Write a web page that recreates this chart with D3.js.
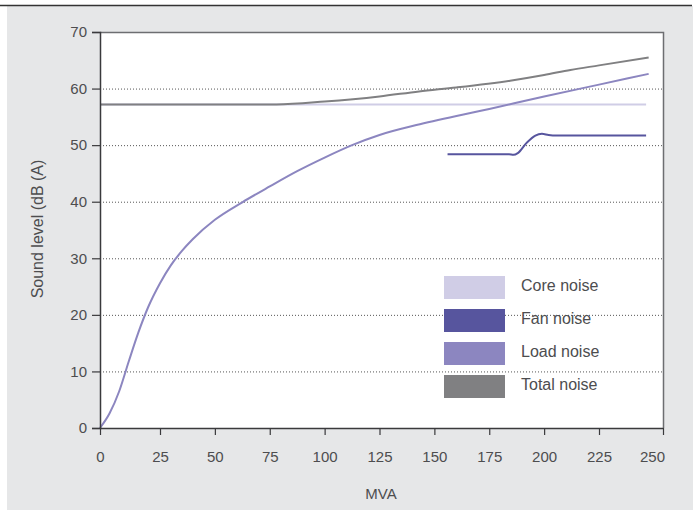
<!DOCTYPE html>
<html><head><meta charset="utf-8">
<script src="https://cdn.jsdelivr.net/npm/d3@7/dist/d3.min.js"></script>
<style>
html,body{margin:0;padding:0;background:#fff;}
svg text{font-family:"Liberation Sans",Arial,Helvetica,sans-serif;}
</style></head>
<body>
<script>
const xTicks = [0,25,50,75,100,125,150,175,200,225,250];
const yTicks = [0,10,20,30,40,50,60,70];
const seriesNames = ["Core noise","Fan noise","Load noise","Total noise"];
const seriesColors = ["#d0cde6","#57559e","#8c86c0","#808082"];

const coreNoise = [[0,57.2],[243.4,57.2]];
const fanNoise = [[156,48.4],[170,48.4],[184,48.4],[186,48.3],[188,48.6],[192,50.4],[196,51.7],[199,52.0],[202,51.8],[205.7,51.7],[243.4,51.7]];
const loadNoise = [[0,0],[4,2.6],[8,6.5],[12,11.8],[16,16.9],[20,21.3],[25,25.6],[30,28.8],[35,31.3],[40,33.4],[50,36.8],[62.5,39.9],[75,42.7],[87.5,45.4],[100,47.8],[112.5,50],[125,51.8],[143.4,53.7],[175,56.4],[200,58.6],[225,60.7],[244.4,62.6]];
const totalNoise = [[0,57.2],[78,57.2],[100,57.7],[125,58.6],[143,59.5],[160,60.2],[184.5,61.4],[200,62.4],[212,63.3],[225,64.1],[244.4,65.5]];
const seriesData = [coreNoise, fanNoise, loadNoise, totalNoise];

(function(){
const W = 698, H = 510;
const svg = d3.select("body").append("svg").attr("width",W).attr("height",H);

svg.append("rect").attr("x",7).attr("y",6).attr("width",686).attr("height",504).attr("fill","#e6e7e8");
svg.append("line").attr("x1",0).attr("x2",692).attr("y1",5.5).attr("y2",5.5).attr("stroke","#333").attr("stroke-width",1.5);

const pL=100, pR=663, pT=32, pB=428;
const x = d3.scaleLinear().domain([0,25,225,250]).range([100,160,599,663]);
const y = d3.scaleLinear().domain([0,70]).range([pB,pT]);

svg.append("rect").attr("x",pL).attr("y",pT).attr("width",pR-pL).attr("height",pB-pT).attr("fill","#fff");

const grid = svg.append("g").attr("transform",`translate(${pL},0)`)
  .call(d3.axisLeft(y).tickValues(yTicks.filter(v=>v>0&&v<70)).tickSize(-(pR-pL)).tickFormat(""));
grid.select(".domain").remove();
grid.selectAll("line").attr("stroke","#555").attr("stroke-width",1).attr("stroke-dasharray","1,2");

svg.append("path").attr("d",`M${pL},${pT+0.5}H${pR+0.5}V${pB}`).attr("fill","none").attr("stroke","#6d6e71").attr("stroke-width",1.5);

const line = d3.line().x(d=>x(d[0])).y(d=>y(d[1])).curve(d3.curveMonotoneX);
[0,2,1,3].forEach(i=>{
  svg.append("path").datum(seriesData[i]).attr("d",line).attr("fill","none")
    .attr("stroke",seriesColors[i]).attr("stroke-width",2);
});

const yAxis = svg.append("g").attr("transform",`translate(${pL},0)`)
  .call(d3.axisLeft(y).tickValues(yTicks).tickSize(8).tickPadding(5));
const xAxis = svg.append("g").attr("transform",`translate(0,${pB})`)
  .call(d3.axisBottom(x).tickValues(xTicks).tickSize(7).tickPadding(16).tickSizeOuter(0));
[yAxis,xAxis].forEach(g=>{
  g.select(".domain").attr("stroke","#3a3a3c").attr("stroke-width",1.5);
  g.selectAll(".tick line").attr("stroke","#3a3a3c").attr("stroke-width",1.2);
  g.selectAll("text").attr("fill","#4d4d4f").attr("font-size",15).attr("font-family","Liberation Sans, Arial, sans-serif");
});
xAxis.selectAll(".tick").filter(d=>d===250).select("text").attr("dx",-11);

svg.append("text").attr("transform","translate(43,229) rotate(-90)").attr("text-anchor","middle")
  .attr("font-size",16).attr("fill","#4d4d4f").text("Sound level (dB (A)");
svg.append("text").attr("x",381).attr("y",499).attr("text-anchor","middle")
  .attr("font-size",15).attr("fill","#4d4d4f").text("MVA");

const lg = svg.append("g");
seriesNames.forEach((n,i)=>{
  const yy = 276 + i*33;
  lg.append("rect").attr("x",444).attr("y",yy).attr("width",61).attr("height",23).attr("fill",seriesColors[i]);
  lg.append("text").attr("x",521).attr("y",yy+9.5).attr("dy","0.35em").attr("font-size",16)
    .attr("fill","#4d4d4f").text(n);
});
})();
</script>
</body></html>
